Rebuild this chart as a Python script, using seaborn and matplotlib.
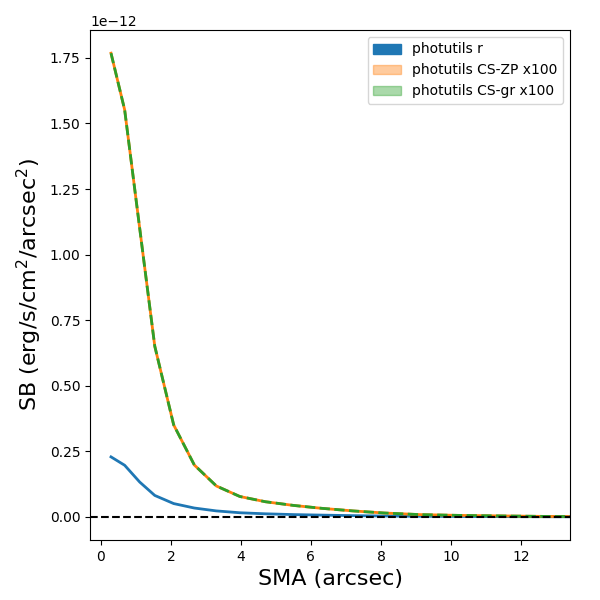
import numpy as np
import pandas as pd
import matplotlib
matplotlib.use('Agg')
import matplotlib.pyplot as plt
import matplotlib.patches as mpatches
import seaborn as sns

# SMA grid (arcsec)
sma = [0.29, 0.68, 1.11, 1.54, 2.08, 2.67, 3.3, 3.97, 4.7, 5.5, 6.3, 7.2,
       8.1, 9.1, 10.2, 11.4, 12.7, 14.1]

# surface brightness, units of 1e-12 erg/s/cm2/arcsec2
sb_r = [0.229, 0.197, 0.133, 0.082, 0.051, 0.034, 0.023, 0.016, 0.012, 0.009,
        0.007, 0.005, 0.0035, 0.0025, 0.0018, 0.0012, 0.0008, 0.0005]
sb_cs_zp = [1.768, 1.552, 1.10, 0.651, 0.351, 0.198, 0.118, 0.078, 0.058, 0.044,
            0.033, 0.023, 0.015, 0.009, 0.006, 0.004, 0.002, 0.001]
sb_cs_gr = [1.768, 1.552, 1.10, 0.651, 0.351, 0.198, 0.118, 0.078, 0.058, 0.044,
            0.033, 0.023, 0.015, 0.009, 0.006, 0.004, 0.002, 0.001]

df = pd.DataFrame({
    'sma': sma,
    'r': np.array(sb_r) * 1e-12,
    'zp': np.array(sb_cs_zp) * 1e-12,
    'gr': np.array(sb_cs_gr) * 1e-12,
})

fig = plt.figure(figsize=(6, 6), dpi=100)
ax = fig.add_axes([0.15, 0.10, 0.80, 0.85])

sns.lineplot(data=df, x='sma', y='r', ax=ax, color='C0', lw=2)
sns.lineplot(data=df, x='sma', y='zp', ax=ax, color='C1', lw=2)
sns.lineplot(data=df, x='sma', y='gr', ax=ax, color='C2', lw=2, linestyle='--')

ax.axhline(0, color='k', linestyle='--')
ax.set_xlim(-0.31, 13.4)

ax.set_xlabel('SMA (arcsec)', fontsize=16)
ax.set_ylabel(r'SB (erg/s/cm$^2$/arcsec$^2$)', fontsize=16)

handles = [
    mpatches.Patch(color='C0', label='photutils r'),
    mpatches.Patch(color='C1', alpha=0.4, label='photutils CS-ZP x100'),
    mpatches.Patch(color='C2', alpha=0.4, label='photutils CS-gr x100'),
]
ax.legend(handles=handles, loc='upper right')

fig.savefig('out.png', dpi=100)
